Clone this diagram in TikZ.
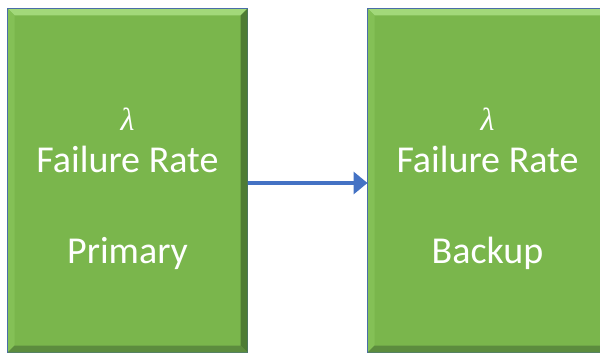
\documentclass[tikz,border=0pt]{standalone}
\usepackage{fontspec}
\setmainfont{Carlito}
\newfontfamily\greekfont{Liberation Serif}
\usetikzlibrary{arrows.meta}

\definecolor{boxgreen}{RGB}{122,182,76}
\definecolor{bevtop}{RGB}{162,216,122}
\definecolor{bevleft}{RGB}{132,192,86}
\definecolor{bevright}{RGB}{78,124,52}
\definecolor{bevbot}{RGB}{92,140,62}
\definecolor{edgeblue}{RGB}{74,110,168}
\definecolor{arrowblue}{RGB}{68,114,196}

\tikzset{
  block/.style={draw=edgeblue, line width=1pt, fill=boxgreen, minimum width=239pt, minimum height=343pt, inner sep=0pt},
  lbl/.style={text=white, font=\fontsize{38}{44}\selectfont, inner sep=0pt},
  sym/.style={text=white, font=\greekfont\itshape\fontsize{32}{36}\selectfont, inner sep=0pt}
  ,link/.style={draw=arrowblue, line width=4.5pt, -{Triangle[length=14pt,width=22pt]}}
}

% bevelled edges of a block
\newcommand{\bevel}[1]{%
  \fill[bevtop] (#1.north west) -- (#1.north east) -- ([shift={(-7pt,-7pt)}]#1.north east) -- ([shift={(7pt,-7pt)}]#1.north west) -- cycle;
  \fill[bevleft] (#1.north west) -- ([shift={(7pt,-7pt)}]#1.north west) -- ([shift={(7pt,7pt)}]#1.south west) -- (#1.south west) -- cycle;
  \fill[bevright] (#1.north east) -- (#1.south east) -- ([shift={(-7pt,7pt)}]#1.south east) -- ([shift={(-7pt,-7pt)}]#1.north east) -- cycle;
  \fill[bevbot] (#1.south west) -- ([shift={(7pt,7pt)}]#1.south west) -- ([shift={(-7pt,7pt)}]#1.south east) -- (#1.south east) -- cycle;
  \draw[edgeblue, line width=1pt] (#1.south west) -- (#1.north west) -- (#1.north east);
}

\begin{document}
\begin{tikzpicture}[x=1pt, y=-1pt]
\useasboundingbox (0,0) rectangle (600,353);
\clip (0,0) rectangle (600,353);
%
\node[block] (primary) at (127.5,180.5) {};
\node[block] (backup) at (487.5,180.5) {};
\bevel{primary}
\bevel{backup}
%
\node[sym, anchor=base] (lamP) at ([yshift=50pt]primary.center) {λ};
\node[lbl, anchor=base] (rateP) at ([yshift=8.5pt]primary.center) {Failure Rate};
\node[lbl, anchor=base] (nameP) at ([yshift=-82.5pt]primary.center) {Primary};
%
\node[sym, anchor=base] (lamB) at ([yshift=50pt]backup.center) {λ};
\node[lbl, anchor=base] (rateB) at ([yshift=8.5pt]backup.center) {Failure Rate};
\node[lbl, anchor=base] (nameB) at ([yshift=-82.5pt]backup.center) {Backup};
%
\draw[link] ([yshift=-2.5pt]primary.east) -- ([yshift=-2.5pt]backup.west);
\end{tikzpicture}
\end{document}
